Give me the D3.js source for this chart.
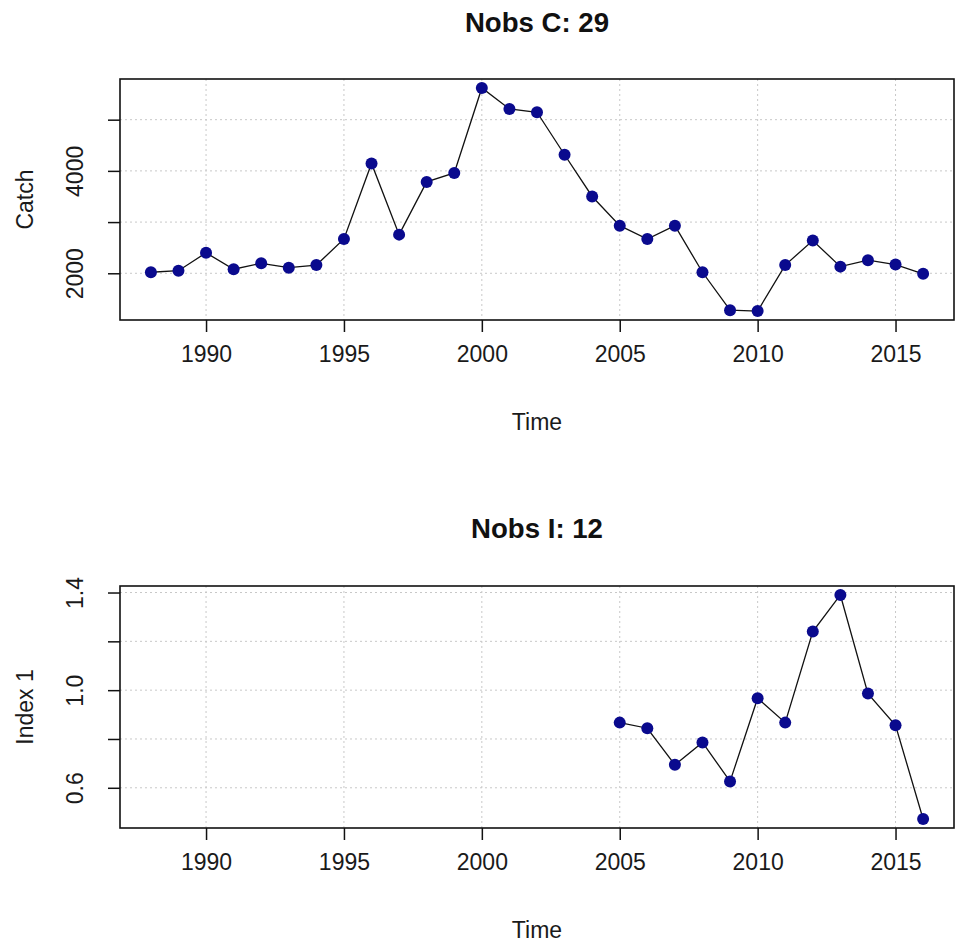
<!DOCTYPE html>
<html>
<head>
<meta charset="utf-8">
<script src="https://cdn.jsdelivr.net/npm/d3@7"></script>
<style>
  html, body { margin: 0; padding: 0; background: #ffffff; }
  svg { display: block; font-family: "Liberation Sans", Arial, sans-serif; }
</style>
</head>
<body>
<svg id="chart" width="961" height="951"></svg>
<script>
// ---- Data ----
const catchYears = [1988,1989,1990,1991,1992,1993,1994,1995,1996,1997,1998,1999,2000,2001,2002,2003,2004,2005,2006,2007,2008,2009,2010,2011,2012,2013,2014,2015,2016];
const catchValues = [2020,2050,2400,2080,2195,2110,2160,2670,4145,2755,3785,3960,5620,5210,5145,4315,3500,2930,2670,2930,2020,1280,1262,2160,2640,2130,2255,2170,1990];
const indexYears = [2005,2006,2007,2008,2009,2010,2011,2012,2013,2014,2015,2016];
const indexValues = [0.867,0.844,0.694,0.786,0.626,0.967,0.867,1.240,1.390,0.986,0.856,0.472];
const xTicks = [1990,1995,2000,2005,2010,2015];
const catchTicks = [2000,3000,4000,5000];
const catchTickLabels = ["2000","","4000",""];
const indexTicks = [0.6,0.8,1.0,1.2,1.4];
const indexTickLabels = ["0.6","","1.0","","1.4"];
const titles = ["Nobs C: 29", "Nobs I: 12"];
const yLabels = ["Catch", "Index 1"];
const xLabel = "Time";

// ---- Layout ----
const svg = d3.select("#chart");
const left = 120, right = 954;
const panels = [
  { top: 79, bottom: 320, xs: catchYears, ys: catchValues, ticks: catchTicks, labels: catchTickLabels, title: titles[0], ylab: yLabels[0], titleY: 32 },
  { top: 586, bottom: 828, xs: indexYears, ys: indexValues, ticks: indexTicks, labels: indexTickLabels, title: titles[1], ylab: yLabels[1], titleY: 538 }
];

const xExt = d3.extent(catchYears);
const xPad = (xExt[1] - xExt[0]) * 0.04;
const x = d3.scaleLinear().domain([xExt[0] - xPad, xExt[1] + xPad]).range([left, right]);

const fontSize = 23;
const textColor = "#1a1a1a";

panels.forEach(p => {
  const yExt = d3.extent(p.ys);
  const yPad = (yExt[1] - yExt[0]) * 0.04;
  const y = d3.scaleLinear().domain([yExt[0] - yPad, yExt[1] + yPad]).range([p.bottom, p.top]);
  const g = svg.append("g");

  // grid
  g.append("g").selectAll("line.vg").data(xTicks).join("line")
    .attr("x1", d => x(d)).attr("x2", d => x(d))
    .attr("y1", p.top).attr("y2", p.bottom)
    .attr("stroke", "#c8c8c8").attr("stroke-width", 1).attr("stroke-dasharray", "2,3");
  g.append("g").selectAll("line.hg").data(p.ticks).join("line")
    .attr("x1", left).attr("x2", right)
    .attr("y1", d => y(d)).attr("y2", d => y(d))
    .attr("stroke", "#c8c8c8").attr("stroke-width", 1).attr("stroke-dasharray", "2,3");

  // line
  const pts = p.xs.map((d, i) => [d, p.ys[i]]);
  g.append("path").datum(pts)
    .attr("fill", "none").attr("stroke", "#111").attr("stroke-width", 1.3)
    .attr("d", d3.line().x(d => x(d[0])).y(d => y(d[1])));

  // points
  g.append("g").selectAll("circle").data(pts).join("circle")
    .attr("cx", d => x(d[0])).attr("cy", d => y(d[1])).attr("r", 6)
    .attr("fill", "#0a0a8e");

  // box
  g.append("rect").attr("x", left).attr("y", p.top)
    .attr("width", right - left).attr("height", p.bottom - p.top)
    .attr("fill", "none").attr("stroke", "#111").attr("stroke-width", 1.6);

  // x axis
  const xa = g.append("g").attr("transform", `translate(0,${p.bottom})`)
    .call(d3.axisBottom(x).tickValues(xTicks).tickFormat(d3.format("d")).tickSize(12).tickPadding(14));
  xa.select(".domain").remove();
  xa.selectAll(".tick line").attr("stroke", "#111").attr("stroke-width", 1.5);
  xa.selectAll(".tick text").attr("fill", textColor).attr("font-size", fontSize)
    .attr("font-family", "Liberation Sans, Arial, sans-serif").attr("dy", "0.71em");

  // y axis
  const ya = g.append("g").attr("transform", `translate(${left},0)`)
    .call(d3.axisLeft(y).tickValues(p.ticks).tickFormat((d, i) => p.labels[i]).tickSize(12));
  ya.select(".domain").remove();
  ya.selectAll(".tick line").attr("stroke", "#111").attr("stroke-width", 1.5);
  ya.selectAll(".tick text").attr("fill", textColor).attr("font-size", fontSize)
    .attr("font-family", "Liberation Sans, Arial, sans-serif")
    .attr("x", null).attr("dy", null)
    .attr("text-anchor", "middle")
    .attr("transform", "translate(-37,0) rotate(-90)");

  // title
  g.append("text").attr("x", (left + right) / 2).attr("y", p.titleY)
    .attr("text-anchor", "middle").attr("font-weight", "bold").attr("font-size", 27.6)
    .attr("fill", "#111").text(p.title);

  // x label
  g.append("text").attr("x", (left + right) / 2).attr("y", p.bottom + 110)
    .attr("text-anchor", "middle").attr("font-size", fontSize).attr("fill", textColor).text(xLabel);

  // y label
  g.append("text").attr("transform", `translate(33,${(p.top + p.bottom) / 2}) rotate(-90)`)
    .attr("text-anchor", "middle").attr("font-size", fontSize).attr("fill", textColor).text(p.ylab);
});
</script>
</body>
</html>
